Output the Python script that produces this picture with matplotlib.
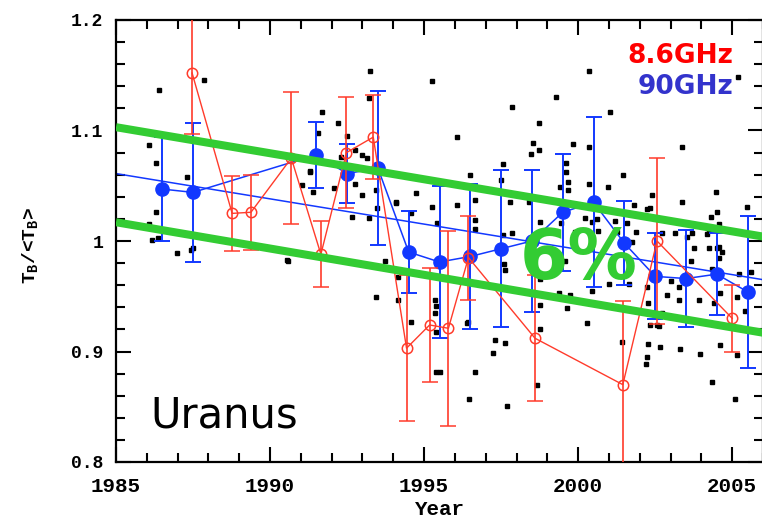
import numpy as np
import matplotlib
matplotlib.use('Agg')
import matplotlib.pyplot as plt
from matplotlib.ticker import MultipleLocator

# 90 GHz averages (filled blue) with symmetric errors
blue_years = [1986.5, 1987.5, 1991.5, 1992.5, 1993.5, 1994.5, 1995.5, 1996.5, 1997.5,
              1998.5, 1999.5, 2000.5, 2001.5, 2002.5, 2003.5, 2004.5, 2005.5]
blue_vals = [1.047, 1.044, 1.078, 1.061, 1.066, 0.990, 0.981, 0.986, 0.993,
             1.000, 1.026, 1.035, 0.998, 0.968, 0.966, 0.970, 0.954]
blue_err = [0.047, 0.063, 0.030, 0.027, 0.070, 0.037, 0.069, 0.066, 0.071,
            0.064, 0.053, 0.077, 0.038, 0.039, 0.044, 0.037, 0.069]

# linear fit to the 90 GHz data
fit_years = [1985, 2006]
fit_vals = [1.061, 0.965]

# 8.6 GHz points (open red)
red_years = [1987.47, 1988.77, 1989.38, 1990.69, 1991.65, 1992.48, 1993.35, 1994.43,
             1995.18, 1995.79, 1996.44, 1998.60, 2001.45, 2002.56, 2005.00]
red_vals = [1.152, 1.025, 1.026, 1.075, 0.988, 1.080, 1.094, 0.903,
            0.924, 0.921, 0.985, 0.912, 0.870, 1.000, 0.930]
red_err = [0.055, 0.034, 0.034, 0.060, 0.030, 0.050, 0.038, 0.066,
           0.052, 0.088, 0.038, 0.057, 0.076, 0.075, 0.030]

# individual measurements (black dots)
dot_years = [
    1986.41, 1987.87, 1986.06, 1986.30, 1987.30, 1986.30, 1986.07, 1986.35, 1986.17, 1987.50,
    1986.98, 1987.44, 1991.69, 1991.30, 1991.40, 1991.04, 1992.20, 1992.50, 1993.25, 1993.20,
    1992.76, 1993.00, 1993.00, 1993.15, 1992.66, 1993.20, 1993.46, 1990.55, 1995.27, 1991.56,
    1992.30, 1992.75, 1991.29, 1992.08, 1993.43, 1994.08, 1994.73, 1995.26, 1994.57, 1995.42,
    1997.85, 1999.29, 2000.35, 2001.04, 1996.06, 1998.73, 1998.54, 1998.46, 1998.73, 1999.83,
    2000.36, 2003.37, 2005.20, 1997.57, 1996.50, 1997.49, 1999.60, 1999.60, 1999.66, 1999.67,
    1999.42, 2000.36, 2001.46, 2000.97, 2003.37, 2004.48, 2005.49, 2002.39, 2002.34, 2001.80,
    1996.07, 1996.66, 1997.79, 1998.41, 1994.09, 1996.66, 1996.66, 1997.85, 1998.77, 1999.43,
    2000.23, 2000.45, 2000.60, 2000.66, 1999.90, 1997.57, 2001.20, 2001.27, 2001.59, 2001.88,
    2001.75, 2004.30, 2004.51, 2004.57, 2004.24, 2003.70, 2003.54, 2002.24, 2004.25, 2004.57,
    2004.66, 2003.14, 2004.19, 2002.73, 1990.58, 1993.72, 1993.45, 1994.16, 1994.16, 1994.59,
    1995.40, 1995.35, 1995.35, 1995.38, 1997.60, 1997.63, 1999.58, 1999.39, 1999.74, 1999.63,
    1998.77, 1998.77, 1998.77, 1997.30, 1997.63, 1997.25, 1996.38, 1996.66, 1996.47, 1997.68,
    1998.66, 1995.52, 2000.44, 2000.28, 2001.42, 2002.23, 2002.21, 2002.28, 2002.66, 2003.31,
    2003.96, 2004.34, 2005.10, 2004.61, 2005.15, 2004.61, 2004.40, 2002.88, 2003.26, 2002.55,
    2002.34, 1995.40, 1996.44, 2000.99, 2003.65, 2002.24, 2002.27, 2001.66, 2003.27, 2003.92,
    2004.51, 2004.57, 2005.22, 2005.16, 2005.43, 2004.35, 2003.00, 2003.76, 2002.73, 2002.62,
    2005.60]
dot_vals = [
    1.137, 1.146, 1.087, 1.071, 1.058, 1.026, 1.015, 1.003, 1.001, 0.994,
    0.989, 0.992, 1.117, 1.062, 1.044, 1.051, 1.107, 1.095, 1.154, 1.129,
    1.052, 1.042, 1.078, 1.075, 1.022, 1.021, 1.030, 0.983, 1.145, 1.098,
    1.076, 1.082, 1.063, 1.048, 1.046, 1.034, 1.043, 1.031, 1.025, 1.016,
    1.121, 1.130, 1.154, 1.117, 1.094, 1.107, 1.089, 1.079, 1.082, 1.088,
    1.085, 1.085, 1.148, 1.070, 1.060, 1.055, 1.071, 1.062, 1.053, 1.046,
    1.049, 1.052, 1.060, 1.049, 1.035, 1.044, 1.031, 1.042, 1.030, 1.033,
    1.033, 1.037, 1.035, 1.035, 1.035, 1.019, 1.011, 1.007, 1.017, 1.016,
    1.021, 1.017, 1.020, 1.009, 1.008, 1.005, 1.018, 1.008, 1.016, 1.008,
    0.999, 1.022, 1.026, 1.015, 1.010, 1.007, 1.004, 1.029, 0.994, 0.995,
    0.990, 1.007, 1.006, 1.007, 0.982, 0.982, 0.949, 0.967, 0.947, 0.927,
    0.881, 0.947, 0.935, 0.941, 0.979, 0.974, 0.982, 0.953, 0.951, 0.939,
    0.966, 0.942, 0.920, 0.910, 0.908, 0.899, 0.926, 0.881, 0.857, 0.851,
    0.870, 0.881, 0.955, 0.926, 0.909, 0.895, 0.889, 0.907, 0.904, 0.902,
    0.898, 0.872, 0.857, 0.906, 0.897, 0.953, 0.944, 0.951, 0.947, 0.924,
    0.924, 0.918, 0.927, 0.961, 0.982, 0.958, 0.944, 0.961, 0.958, 0.947,
    0.994, 0.985, 0.970, 0.949, 0.937, 0.975, 0.964, 0.994, 0.935, 0.923,
    0.972]

# 6% band
band_years = [1985, 2006]
band_upper = [1.103, 1.004]
band_lower = [1.017, 0.917]

x_ticks = [1985, 1990, 1995, 2000, 2005]
x_ticklabels = ['1985', '1990', '1995', '2000', '2005']
y_ticks = [0.8, 0.9, 1.0, 1.1, 1.2]
y_ticklabels = ['0.8', '0.9', '1', '1.1', '1.2']

RED = '#ff3b2b'
BLUE = '#1238ff'
GREEN = '#33cc33'

plt.rcParams['mathtext.fontset'] = 'custom'
plt.rcParams['mathtext.rm'] = 'Liberation Mono:bold'
plt.rcParams['mathtext.it'] = 'Liberation Mono:bold'

fig = plt.figure(figsize=(7.62, 5.22), dpi=100)
ax = fig.add_axes([116 / 762, 60 / 522, 647 / 762, 442 / 522])

ax.plot(dot_years, dot_vals, 's', color='black', markersize=3.2, zorder=1)

ax.plot(fit_years, fit_vals, '-', color=BLUE, lw=1.1, zorder=2)
ax.errorbar(blue_years, blue_vals, yerr=blue_err, fmt='-o', color=BLUE, lw=1.1,
            elinewidth=1.4, capsize=6, capthick=1.4, markersize=9.5, zorder=3)

ax.errorbar(red_years, red_vals, yerr=red_err, fmt='-o', color=RED, lw=1.0,
            elinewidth=1.2, capsize=6, capthick=1.2, markersize=7.5,
            markerfacecolor='none', markeredgewidth=1.1, zorder=4)

ax.plot(band_years, band_upper, '-', color=GREEN, lw=5.8, solid_capstyle='butt', zorder=5)
ax.plot(band_years, band_lower, '-', color=GREEN, lw=5.8, solid_capstyle='butt', zorder=5)

ax.text(1998.1, 0.966, '6%', color=GREEN, fontsize=50, fontweight='bold',
        family='DejaVu Sans', va='baseline', ha='left', zorder=6)
ax.text(1986.1, 0.831, 'Uranus', color='black', fontsize=30,
        family='DejaVu Sans', va='baseline', ha='left', zorder=6)
ax.text(2005.03, 1.161, '8.6GHz', color='#ff0000', fontsize=19, fontweight='bold',
        family='DejaVu Sans', va='baseline', ha='right', zorder=6)
ax.text(2005.03, 1.133, '90GHz', color='#3333cc', fontsize=19, fontweight='bold',
        family='DejaVu Sans', va='baseline', ha='right', zorder=6)

ax.set_xlim(1985, 2006)
ax.set_ylim(0.8, 1.2)
ax.set_xticks(x_ticks)
ax.set_xticklabels(x_ticklabels)
ax.set_yticks(y_ticks)
ax.set_yticklabels(y_ticklabels)
ax.xaxis.set_minor_locator(MultipleLocator(1))
ax.yaxis.set_minor_locator(MultipleLocator(0.02))
ax.tick_params(which='both', direction='in', top=True, right=True, width=1.5, color='black')
ax.tick_params(which='major', length=11)
ax.tick_params(which='minor', length=6.5)
ax.tick_params(axis='x', which='major', pad=11)
ax.tick_params(axis='y', which='major', pad=9)
for lab in ax.get_xticklabels():
    lab.set_family('Liberation Mono')
    lab.set_fontweight('bold')
    lab.set_fontsize(15)
for lab in ax.get_yticklabels():
    lab.set_family('Liberation Mono')
    lab.set_fontweight('bold')
    lab.set_fontsize(13)
for sp in ax.spines.values():
    sp.set_linewidth(1.6)

ax.set_xlabel('Year', family='Liberation Mono', fontweight='bold', fontsize=15)
ax.xaxis.set_label_coords(0.5, -0.085)
ax.set_ylabel(r'T$_B$/<T$_B$>', family='Liberation Mono', fontweight='bold', fontsize=14)
ax.yaxis.set_label_coords(-0.118, 0.49)

fig.savefig('out.png', dpi=100)
